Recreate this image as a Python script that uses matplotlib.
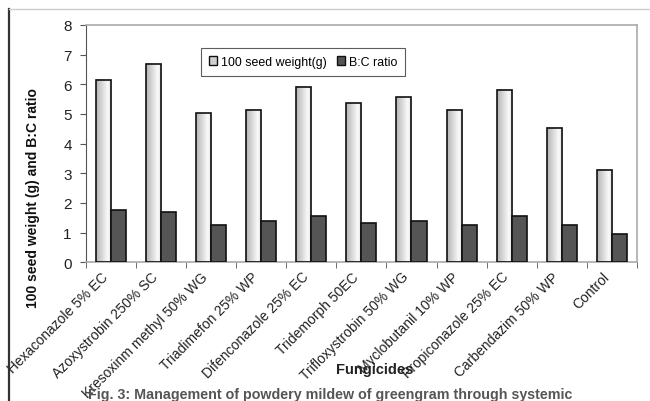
import numpy as np
import matplotlib
matplotlib.use("Agg")
import matplotlib.pyplot as plt
import matplotlib.transforms as mtransforms
from matplotlib.lines import Line2D
from matplotlib.patches import Rectangle

categories = ["Hexaconazole 5% EC", "Azoxystrobin 250% SC", "Kresoxinm methyl 50% WG",
              "Triadimefon 25% WP", "Difenconazole 25% EC", "Tridemorph 50EC",
              "Trifloxystrobin 50% WG", "Myclobutanil 10% WP", "Propiconazole 25% EC",
              "Carbendazim 50% WP", "Control"]
seed_weight = [6.15, 6.68, 5.02, 5.14, 5.92, 5.36, 5.56, 5.14, 5.80, 4.53, 3.12]
bc_ratio = [1.77, 1.68, 1.26, 1.38, 1.56, 1.33, 1.39, 1.26, 1.56, 1.26, 0.94]
yticks = [0, 1, 2, 3, 4, 5, 6, 7, 8]

plt.rcParams['font.family'] = ['Liberation Sans', 'DejaVu Sans']

fig = plt.figure(figsize=(6.5, 4.02), dpi=100)
ax = fig.add_axes([85.7/650, 1-263.3/402, (637-85.7)/650, (263.3-26)/402])

x = np.arange(len(categories))
w = 0.3
grad = np.linspace(0, 1, 64)
cmap = matplotlib.colors.LinearSegmentedColormap.from_list(
    "g", [(0, "#b4b4b4"), (0.75, "#fbfbfb"), (1.0, "#d8d8d8")])
for xi, v in zip(x, seed_weight):
    x0 = xi - w
    ax.imshow(grad[None, :], cmap=cmap, extent=(x0, x0 + w, 0, v), aspect='auto',
              zorder=2, interpolation='bilinear')
    ax.add_patch(Rectangle((x0, 0), w, v, fill=False, edgecolor='#111111', lw=1.2, zorder=3))
ax.bar(x + w/2, bc_ratio, width=w, color='#555555', edgecolor='#111111', lw=1.2, zorder=3)

ax.set_xlim(-0.5, len(categories) - 0.5)
ax.set_ylim(0, 8)
ax.set_yticks(yticks)
ax.set_yticklabels([str(t) for t in yticks], fontsize=11, color='#222222')
ax.set_xticks(x)
ax.set_xticklabels(categories, rotation=45, ha='right', fontsize=10, color='#222222')
offset = mtransforms.ScaledTranslation(4/100, 0, fig.dpi_scale_trans)
for lab in ax.get_xticklabels():
    lab.set_transform(lab.get_transform() + offset)
ax.tick_params(axis='x', length=0, pad=5)
ax.tick_params(axis='y', length=4, color='#555555', pad=6)
ax.set_xticks(np.arange(-0.5, len(categories), 1), minor=True)
ax.tick_params(axis='x', which='minor', length=4, color='#555555', direction='out')

for s in ['top', 'right']:
    ax.spines[s].set_color('#aaaaaa')
    ax.spines[s].set_linewidth(1.2)
ax.spines['left'].set_color('#555555')
ax.spines['bottom'].set_color('#aaaaaa')
ax.spines['bottom'].set_linewidth(1.2)

handles = [Rectangle((0, 0), 1, 1, facecolor='#d0d0d0', edgecolor='#111111', lw=1),
           Rectangle((0, 0), 1, 1, facecolor='#555555', edgecolor='#111111', lw=1)]
leg = fig.legend(handles, ["100 seed weight(g)", "B:C ratio"], ncol=2,
                 loc='center', bbox_to_anchor=(303/650, 1-63/402), fontsize=8.9,
                 frameon=True, fancybox=False, edgecolor='#333333',
                 handlelength=0.7, handleheight=0.7, handletextpad=0.3,
                 columnspacing=0.8, borderpad=0.65)
leg.get_frame().set_linewidth(0.8)

fig.text(33/650, 1-198/402, "100 seed weight (g) and B:C ratio", rotation=90,
         ha='center', va='center', fontsize=10, fontweight='bold', color='#111111')
fig.text(375/650, 1-370/402, "Fungicides", ha='center', va='center',
         fontsize=10.5, fontweight='bold', color='#222222')
fig.text(330/650, 1-395/402, "Fig. 3: Management of powdery mildew of greengram through systemic",
         ha='center', va='center', fontsize=10.3, fontweight='bold', color='#555555')

fig.add_artist(Line2D([9/650, 9/650], [0, 1-10/402], transform=fig.transFigure,
                      color='#333333', lw=1.6))
fig.add_artist(Line2D([9/650, 1], [1-10/402, 1-10/402], transform=fig.transFigure,
                      color='#cccccc', lw=1.0))

fig.savefig("out.png", dpi=100)
